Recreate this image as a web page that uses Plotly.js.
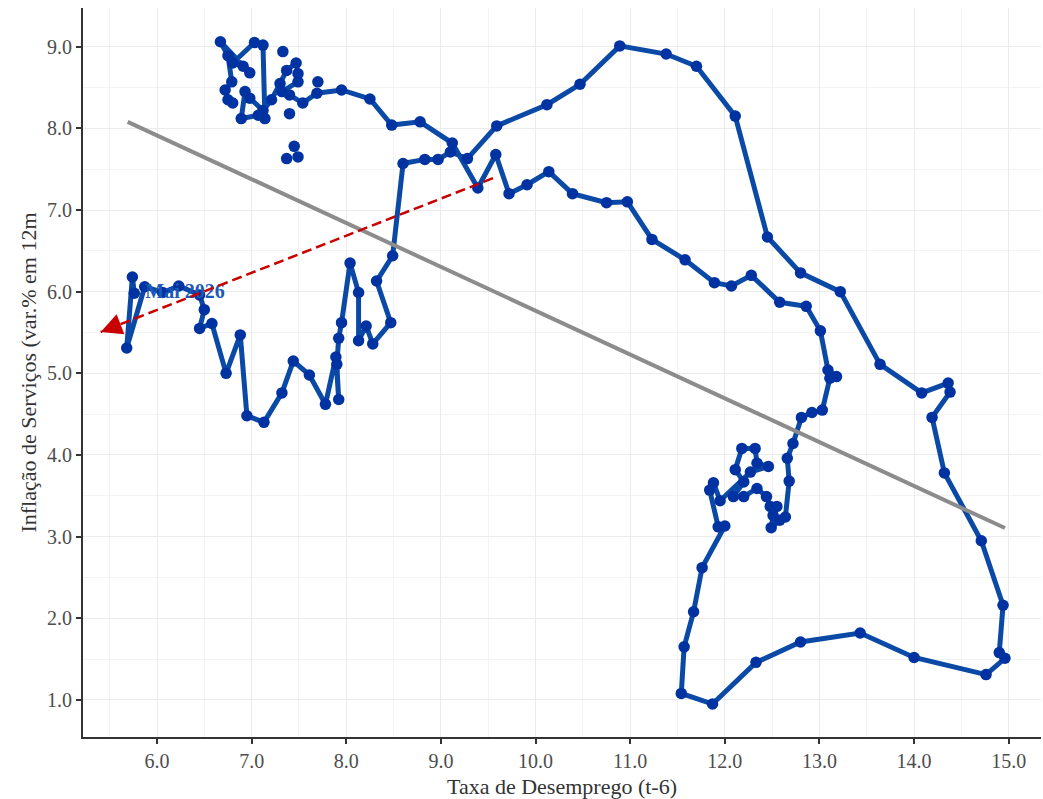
<!DOCTYPE html>
<html>
<head>
<meta charset="utf-8">
<script src="https://cdn.plot.ly/plotly-3.0.1.min.js"></script>
<style>html,body{margin:0;padding:0;background:#fff;}#chart{width:1043px;height:799px;}</style>
</head>
<body>
<div id="chart"></div>
<script>
// Taxa de desemprego (t-6), % — null = quebra da linha
const desemprego_t6 = [
  7.45, null, 7.37, null, 7.49, null, 7.40, null, 7.33, null, 7.70, null,
  6.80, 6.75, 6.72, 6.79, 6.75, 6.67, 6.98, 6.91, 6.80, 7.03, 7.12, 7.14, 7.07, 6.89, 6.93, 6.98,
  7.12, 7.21, 7.30, 7.37, 7.47, 7.49, 7.49, 7.32, 7.40, 7.54, 7.69, 7.95,
  8.25, 8.48, 8.78, 9.12, 9.39, 9.58, 9.72, 9.91, 10.14, 10.39, 10.75, 10.97, 11.23, 11.58,
  11.89, 12.07, 12.28, 12.58, 12.86, 13.01, 13.09, 13.18, 13.11, 13.03, 12.92, 12.81, 12.72,
  12.66, 12.68, 12.64, 12.58,
  12.49, 12.51, 12.55, 12.48, 12.44, 12.34, 12.20, 12.09, 12.20, 12.11, 12.18, 12.32, 12.34,
  12.46, 12.27, 11.95, 11.88, 11.84, 11.93, 12.00,
  11.76, 11.67, 11.57, 11.54, 11.87, 12.33, 12.80, 13.43, 14.00, 14.76, 14.96, 14.90, 14.94,
  14.71, 14.32, 14.19, 14.38, 14.36, 14.08, 13.64, 13.22, 12.80, 12.45, 12.11, 11.70, 11.38,
  10.89, 10.47, 10.12, 9.59, 9.28, 9.10, 8.97, 8.83, 8.60, 8.49, 8.32, 8.47, 8.28, 8.21, 8.13,
  8.13, 8.04, 7.95, 7.92, 7.90, 7.92, 7.89, 7.78, 7.61, 7.44, 7.32, 7.13, 6.95, 6.88, 6.73,
  6.58, 6.45, 6.50, 6.45, 6.23, 6.06, 5.87, 5.68, 5.74, 5.76
];
// Inflação de serviços (var. % em 12 meses)
const inflacao_servicos = [
  7.78, null, 7.63, null, 7.65, null, 8.18, null, 8.94, null, 8.57, null,
  8.31, 8.35, 8.47, 8.57, 8.89, 9.06, 8.68, 8.76, 8.80, 9.05, 9.02, 8.12, 8.16, 8.12, 8.45, 8.37,
  8.22, 8.35, 8.55, 8.71, 8.80, 8.67, 8.57, 8.45, 8.41, 8.31, 8.43, 8.47,
  8.36, 8.04, 8.08, 7.82, 7.27, 7.68, 7.20, 7.31, 7.47, 7.20, 7.09, 7.10, 6.64, 6.39,
  6.11, 6.07, 6.20, 5.87, 5.82, 5.52, 5.04, 4.96, 4.94, 4.55, 4.52, 4.46, 4.14,
  3.96, 3.68, 3.24, 3.20,
  3.11, 3.26, 3.37, 3.37, 3.49, 3.59, 3.49, 3.49, 3.67, 3.82, 4.08, 4.08, 3.90,
  3.86, 3.79, 3.44, 3.66, 3.57, 3.12, 3.13,
  2.62, 2.08, 1.65, 1.08, 0.95, 1.46, 1.71, 1.82, 1.52, 1.31, 1.51, 1.58, 2.16,
  2.95, 3.78, 4.46, 4.77, 4.88, 4.76, 5.11, 6.00, 6.23, 6.67, 8.15, 8.76, 8.91,
  9.01, 8.54, 8.29, 8.03, 7.63, 7.71, 7.62, 7.62, 7.57, 6.44, 6.13, 5.62, 5.36, 5.58, 5.40,
  5.99, 6.35, 5.62, 5.43, 5.11, 4.68, 5.20, 4.62, 4.98, 5.15, 4.76, 4.40, 4.48, 5.47, 5.00,
  5.61, 5.55, 5.78, 5.96, 6.07, 5.99, 6.06, 5.31, 6.18, 5.98
];
const rotulo_final = "Mai 2026";
// Reta de tendência (extremos)
const tendencia_x = [5.69, 14.96];
const tendencia_y = [8.08, 3.105];
// Seta de projeção (origem -> destino)
const projecao_x = [9.55, 5.405];
const projecao_y = [7.39, 5.506];

const serif = "'Liberation Serif', 'DejaVu Serif', serif";

let iLast = desemprego_t6.length - 1;
while (desemprego_t6[iLast] === null) iLast--;

const traces = [
  {
    x: desemprego_t6, y: inflacao_servicos, type: 'scatter', mode: 'lines+markers',
    connectgaps: false,
    line: {color: '#0b49a6', width: 5},
    marker: {color: '#0033a1', size: 11.5},
    hoverinfo: 'skip'
  },
  {
    x: tendencia_x, y: tendencia_y, type: 'scatter', mode: 'lines',
    line: {color: '#8c8c8c', width: 4}, hoverinfo: 'skip'
  },
  {
    x: [desemprego_t6[iLast]], y: [inflacao_servicos[iLast]], type: 'scatter', mode: 'markers+text',
    text: [rotulo_final], textposition: 'middle right',
    marker: {size: 16, opacity: 0},
    textfont: {family: serif, size: 20, color: '#1c58b8', weight: 'bold'}, hoverinfo: 'skip'
  },
  {
    x: projecao_x, y: projecao_y, type: 'scatter', mode: 'lines',
    line: {color: '#c80000', width: 2.5, dash: '10px,5px'}, hoverinfo: 'skip'
  }
];

const f = 0.035;
const layout = {
  width: 1043, height: 799,
  margin: {l: 83, r: 2, t: 8, b: 62},
  paper_bgcolor: '#ffffff', plot_bgcolor: '#ffffff',
  showlegend: false,
  font: {family: serif, color: '#4d4d4d'},
  xaxis: {
    range: [5.218, 15.341], dtick: 1, tick0: 0, tickformat: '.1f',
    showgrid: true, gridcolor: '#ebebeb', gridwidth: 1,
    minor: {dtick: 0.5, tick0: 0, showgrid: true, gridcolor: '#f3f3f3', gridwidth: 1, ticks: ''},
    zeroline: false, showline: true, linecolor: '#333333', linewidth: 2,
    ticks: 'outside', ticklen: 5, tickwidth: 2, tickcolor: '#333333',
    tickfont: {family: serif, size: 20, color: '#4d4d4d'},
    title: {text: 'Taxa de Desemprego (t-6)', font: {family: serif, size: 22, color: '#333333'}, standoff: 8}
  },
  yaxis: {
    range: [0.546, 9.474], dtick: 1, tick0: 0, tickformat: '.1f',
    showgrid: true, gridcolor: '#ebebeb', gridwidth: 1,
    minor: {dtick: 0.5, tick0: 0, showgrid: true, gridcolor: '#f3f3f3', gridwidth: 1, ticks: ''},
    zeroline: false, showline: true, linecolor: '#333333', linewidth: 2,
    ticks: 'outside', ticklen: 5, tickwidth: 2, tickcolor: '#333333',
    tickfont: {family: serif, size: 20, color: '#4d4d4d'},
    title: {text: 'Inflação de Serviços (var.% em 12m', font: {family: serif, size: 22, color: '#333333'}, standoff: 4}
  },
  annotations: [{
    x: projecao_x[1], y: projecao_y[1],
    ax: projecao_x[1] + f * (projecao_x[0] - projecao_x[1]),
    ay: projecao_y[1] + f * (projecao_y[0] - projecao_y[1]),
    xref: 'x', yref: 'y', axref: 'x', ayref: 'y',
    text: '', showarrow: true, arrowhead: 2, arrowsize: 1.7, arrowwidth: 2.5, arrowcolor: '#c80000'
  }]
};

Plotly.newPlot('chart', traces, layout, {displayModeBar: false, staticPlot: true});
</script>
</body>
</html>
